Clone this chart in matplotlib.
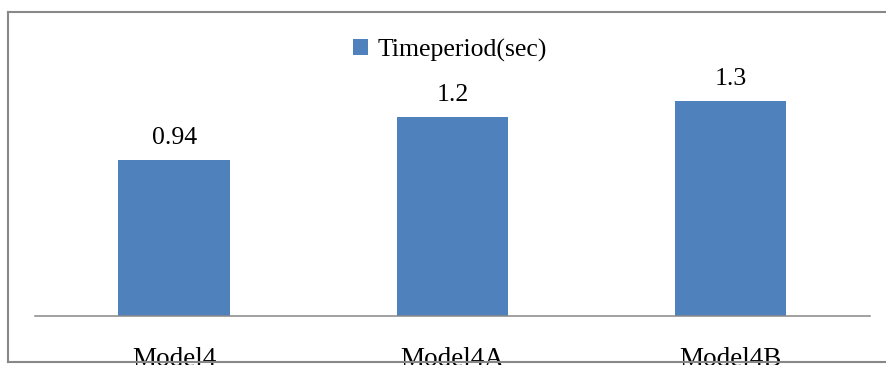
import matplotlib.pyplot as plt
from matplotlib.lines import Line2D
from matplotlib.patches import Patch

models = ['Model4', 'Model4A', 'Model4B']
timeperiod = [0.94, 1.2, 1.3]
value_labels = ['0.94', '1.2', '1.3']

bar_color = '#4F81BD'
line_color = '#888888'

plt.rcParams['font.family'] = ['Liberation Serif', 'DejaVu Serif']

fig = plt.figure(figsize=(8.86, 3.65), dpi=100)
ax = fig.add_axes([35 / 886, 49 / 365, 835 / 886, 231.7 / 365])

x = range(len(models))
bars = ax.bar(x, timeperiod, width=0.4, color=bar_color, zorder=2)

for xi, v, lab in zip(x, timeperiod, value_labels):
    ax.annotate(lab, (xi, v), xytext=(0, 11.5), textcoords='offset points',
                ha='center', va='baseline', fontsize=18.5)

ax.set_xlim(-0.5, 2.5)
ax.set_ylim(0, 1.4)
ax.set_xticks(list(x))
ax.set_xticklabels(models, fontsize=19.5)
ax.tick_params(axis='x', length=0, pad=22)
ax.set_yticks([])
for s in ['top', 'left', 'right']:
    ax.spines[s].set_visible(False)
ax.spines['bottom'].set_color(line_color)
ax.spines['bottom'].set_linewidth(1.1)

handle = Patch(facecolor=bar_color, edgecolor='none')
fig.legend([handle], ['Timeperiod(sec)'], loc='center',
           bbox_to_anchor=(0.508, 0.863), frameon=False, fontsize=18.5,
           handlelength=0.58, handleheight=0.58, handletextpad=0.4)

# outer chart border, open on the right (runs off the image)
left, right = 8 / 886, 1.0
top, bottom = 1 - 11.5 / 365, 1 - 362 / 365
for xs, ys in [([left, right], [top, top]),
               ([left, left], [top, bottom]),
               ([left, right], [bottom, bottom])]:
    fig.add_artist(Line2D(xs, ys, transform=fig.transFigure, color=line_color,
                          linewidth=1.5, zorder=10, solid_capstyle='projecting'))

fig.savefig('out.png', dpi=100)
